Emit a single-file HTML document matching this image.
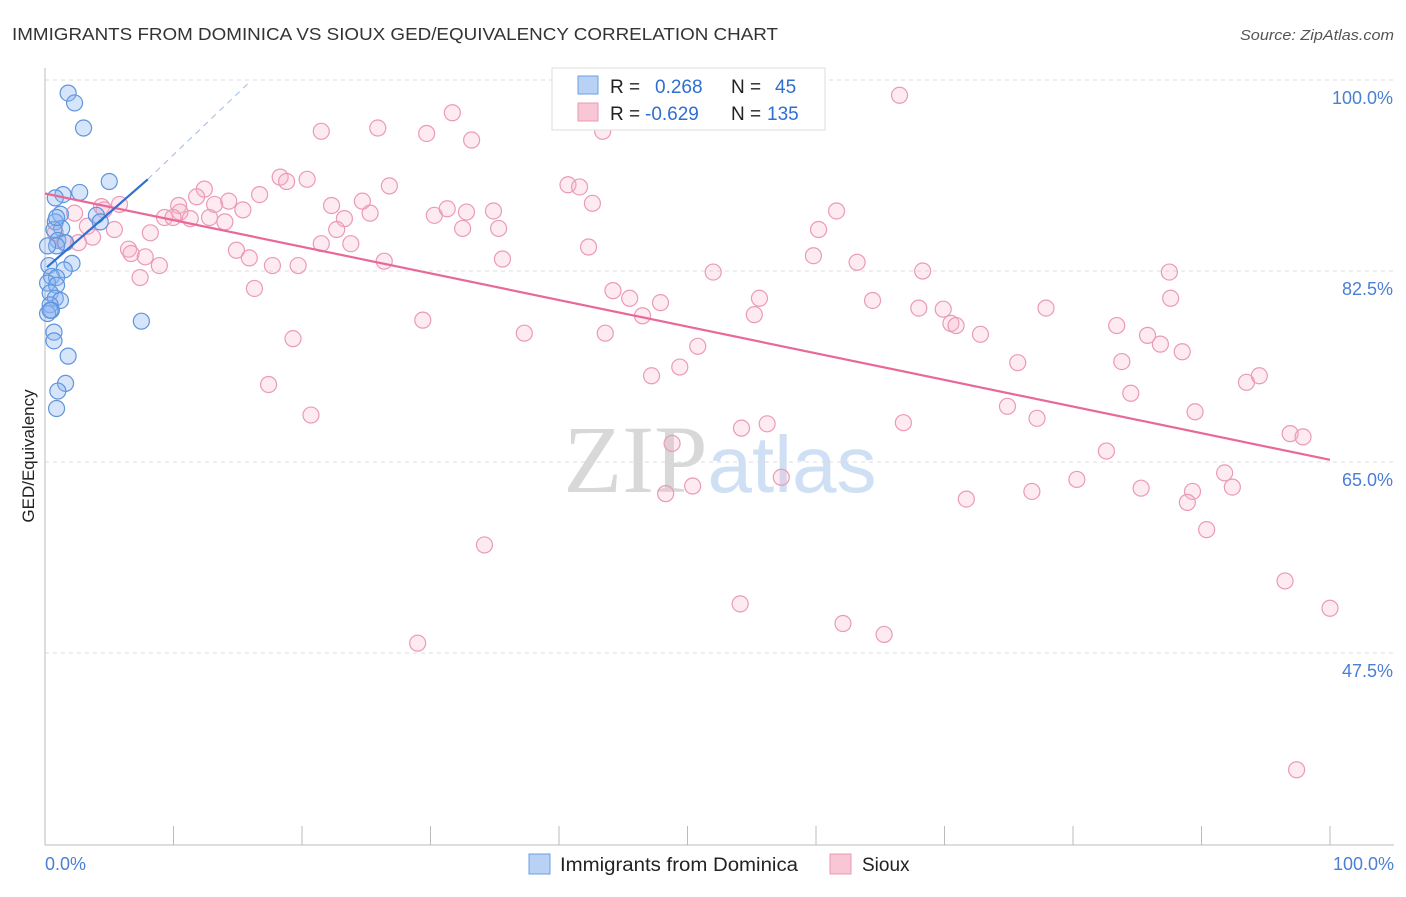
<!DOCTYPE html>
<html><head><meta charset="utf-8"><style>
body{margin:0;background:#fff;font-family:"Liberation Sans",sans-serif;}
</style></head><body>
<svg width="1406" height="892" xmlns="http://www.w3.org/2000/svg" font-family="Liberation Sans, sans-serif">
<text x="12" y="40" font-size="17.5" fill="#333" textLength="766" lengthAdjust="spacingAndGlyphs">IMMIGRANTS FROM DOMINICA VS SIOUX GED/EQUIVALENCY CORRELATION CHART</text>
<text x="1240" y="40" font-size="15" fill="#555" font-style="italic" textLength="154" lengthAdjust="spacingAndGlyphs">Source: ZipAtlas.com</text>
<text x="720" y="492" font-size="96" fill="#ddd" text-anchor="middle"><tspan font-family="Liberation Serif, serif" fill="#d8d8d8">ZIP</tspan><tspan fill="#cfe0f5" font-size="80">atlas</tspan></text>
<g id="grid"></g>
<g id="axes"></g>
<g id="pts"></g>
<g id="lines"></g>
<text transform="translate(34,456) rotate(-90)" font-size="17" fill="#222" text-anchor="middle">GED/Equivalency</text>
<text x="45" y="870" font-size="18" fill="#4a7fd4">0.0%</text>
<text x="1394" y="870" font-size="18" fill="#4a7fd4" text-anchor="end">100.0%</text>
<g>
<rect x="552" y="68" width="273" height="62" fill="#fff" stroke="#ddd"/>
<rect x="578" y="76" width="20" height="18" fill="#b9d1f5" stroke="#6a9fe0"/>
<rect x="578" y="103" width="20" height="18" fill="#f9c6d5" stroke="#e89ab4"/>
<text y="93" font-size="19" fill="#222"><tspan x="610">R =</tspan><tspan x="655" fill="#2f6fd0">0.268</tspan><tspan x="731">N =</tspan><tspan x="775" fill="#2f6fd0">45</tspan></text>
<text y="120" font-size="19" fill="#222"><tspan x="610">R =</tspan><tspan x="645" fill="#2f6fd0">-0.629</tspan><tspan x="731">N =</tspan><tspan x="767" fill="#2f6fd0">135</tspan></text>
</g>
<g>
<rect x="529" y="854" width="21" height="20" fill="#b9d1f5" stroke="#6a9fe0"/>
<text x="560" y="871" font-size="19" fill="#222" textLength="238" lengthAdjust="spacingAndGlyphs">Immigrants from Dominica</text>
<rect x="830" y="854" width="21" height="20" fill="#f9c6d5" stroke="#e89ab4"/>
<text x="862" y="871" font-size="19" fill="#222">Sioux</text>
</g>
</svg>
<script>
const yTicks=[100,82.5,65,47.5];
const yTickLabels=["100.0%","82.5%","65.0%","47.5%"];
const xTicks=[0,10,20,30,40,50,60,70,80,90,100];
const siouxX=[66.5,31.7,21.5,25.9,29.7,33.2,43.4,40.7,41.6,42.6,18.3,18.8,20.4,26.8,24.7,22.3,23.3,25.3,30.3,31.3,32.8,34.9,32.5,35.3,21.5,23.8,22.7,12.4,11.8,10.4,10.5,9.3,9.96,11.3,12.8,14.0,13.2,14.3,15.4,16.7,5.8,4.4,4.6,2.3,5.4,3.3,3.7,2.6,1.5,0.8,8.2,6.5,6.7,7.8,8.9,7.4,14.9,15.9,17.7,19.7,16.3,26.4,35.6,42.3,52.0,59.8,60.2,61.6,63.2,68.3,87.5,87.6,44.2,45.5,47.9,46.5,55.6,55.2,64.4,68.0,69.9,70.5,70.9,72.8,77.9,83.4,85.8,86.8,88.5,83.8,75.7,84.5,93.5,94.5,89.5,74.9,77.2,82.6,96.9,97.9,91.8,92.4,80.3,85.3,89.3,88.9,76.8,71.7,90.4,96.5,100,97.4,66.8,50.8,49.4,47.2,43.6,37.3,29.4,19.3,17.4,20.7,54.2,56.2,48.8,50.4,48.3,57.3,34.2,54.1,62.1,65.3,29.0];
const siouxY=[98.6,97.0,95.3,95.6,95.1,94.5,95.3,90.4,90.2,88.7,91.1,90.7,90.9,90.3,88.9,88.5,87.3,87.8,87.6,88.2,87.9,88.0,86.4,86.4,85.0,85.0,86.3,90.0,89.3,88.5,87.9,87.4,87.4,87.3,87.4,87.0,88.6,88.9,88.1,89.5,88.6,88.4,88.1,87.8,86.3,86.6,85.6,85.1,85.1,86.0,86.0,84.5,84.1,83.8,83.0,81.9,84.4,83.7,83.0,83.0,80.9,83.4,83.6,84.7,82.4,83.9,86.3,88.0,83.3,82.5,82.4,80.0,80.7,80.0,79.6,78.4,80.0,78.5,79.8,79.1,79.0,77.7,77.5,76.7,79.1,77.5,76.6,75.8,75.1,74.2,74.1,71.3,72.3,72.9,69.6,70.1,69.0,66.0,67.6,67.3,64.0,62.7,63.4,62.6,62.3,61.3,62.3,61.6,58.8,54.1,51.6,36.8,68.6,75.6,73.7,72.9,76.8,76.8,78.0,76.3,72.1,69.3,68.1,68.5,66.7,62.8,62.1,63.6,57.4,52.0,50.2,49.2,48.4];
const domX=[1.8,2.3,3.0,5.0,2.7,1.4,0.8,1.2,4.0,4.3,0.8,1.3,0.7,1.0,1.6,0.9,0.2,2.1,1.5,0.3,0.5,0.9,0.2,0.9,0.4,0.8,1.2,0.4,0.5,0.2,7.5,0.7,0.7,1.8,1.6,1.0,0.9,0.4,0.9];
const domY=[98.8,97.9,95.6,90.7,89.7,89.5,89.2,87.7,87.6,87.0,87.0,86.4,86.3,85.3,85.1,84.8,84.8,83.2,82.6,83.0,82.0,81.9,81.4,81.2,80.5,80.0,79.8,79.4,78.9,78.6,77.9,76.9,76.1,74.7,72.2,71.5,69.9,78.9,87.4];
const siouxTrend=[[0,89.6],[100,65.2]];
const domTrend=[[0.15,82.85],[8,90.9]];
const domTrendDash=[[8,90.9],[16,99.9]];
const NS="http://www.w3.org/2000/svg";
const X=v=>45+v*12.85, Y=v=>80+(100-v)*10.914;
function mk(t,a,p){const e=document.createElementNS(NS,t);for(const k in a)e.setAttribute(k,a[k]);p.appendChild(e);return e;}
const grid=document.getElementById('grid'),axes=document.getElementById('axes'),pts=document.getElementById('pts'),lines=document.getElementById('lines');
yTicks.forEach((t,i)=>{
 const l=mk('line',{x1:45,x2:1394,y1:Y(t),y2:Y(t),stroke:'#ddd','stroke-dasharray':'4,4'},grid);
 
 
 const tx=mk('text',{x:1393,y:Y(t)+24,'font-size':18,fill:'#4a7fd4','text-anchor':'end'},grid);
 tx.textContent=yTickLabels[i];
 
 
});
const ya=mk('line',{x1:45,x2:45,y1:68,y2:845,stroke:'#bbb'},axes);


const xa=mk('line',{x1:45,x2:1394,y1:845,y2:845,stroke:'#bbb'},axes);


xTicks.forEach(t=>{
 const l=mk('line',{x1:X(t),x2:X(t),y1:826,y2:845,stroke:'#bbb'},axes);
 
 
});
siouxX.forEach((x,i)=>{
 const c=mk('circle',{cx:X(x),cy:Y(siouxY[i]),r:8,fill:'rgba(248,175,198,0.25)',stroke:'#eb9ab5','stroke-width':1.2},pts);
 
 
});
domX.forEach((x,i)=>{
 const c=mk('circle',{cx:X(x),cy:Y(domY[i]),r:8,fill:'rgba(140,180,240,0.35)',stroke:'#5e95dd','stroke-width':1.2},pts);
 
 
});
const s=mk('line',{x1:X(siouxTrend[0][0]),y1:Y(siouxTrend[0][1]),x2:X(siouxTrend[1][0]),y2:Y(siouxTrend[1][1]),stroke:'#e8689a','stroke-width':2.2},lines);


const d=mk('line',{x1:X(domTrend[0][0]),y1:Y(domTrend[0][1]),x2:X(domTrend[1][0]),y2:Y(domTrend[1][1]),stroke:'#2f6fd0','stroke-width':2.2},lines);


const dd=mk('line',{x1:X(domTrendDash[0][0]),y1:Y(domTrendDash[0][1]),x2:X(domTrendDash[1][0]),y2:Y(domTrendDash[1][1]),stroke:'#9dbbe8','stroke-width':1,'stroke-dasharray':'6,5'},lines);


</script>
</body></html>
